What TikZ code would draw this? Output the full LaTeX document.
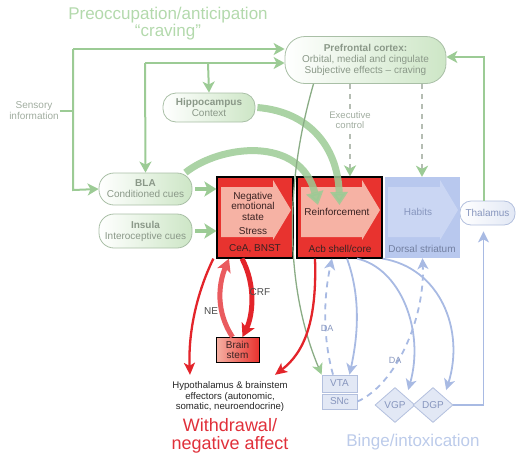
\documentclass[tikz,border=0pt]{standalone}
\usepackage{fontspec}
\setmainfont{Liberation Sans}
\usetikzlibrary{arrows.meta,shapes.geometric}
\definecolor{gline}{HTML}{9CCB95}
\definecolor{gtitle}{HTML}{B3D9AC}
\definecolor{gtext}{HTML}{8A9888}
\definecolor{gfill}{HTML}{CDE6C6}
\definecolor{gborder}{HTML}{A9BFA6}
\definecolor{exgray}{HTML}{B5BDB3}
\definecolor{rbox}{HTML}{E8332F}
\definecolor{rinner}{HTML}{F6B2A4}
\definecolor{rline}{HTML}{E3242A}
\definecolor{rtitle}{HTML}{E0303A}
\definecolor{rtext}{HTML}{3A2222}
\definecolor{bboxc}{HTML}{B8C8EE}
\definecolor{binner}{HTML}{CAD6F3}
\definecolor{bline}{HTML}{A8BAE3}
\definecolor{btext}{HTML}{8796BE}
\definecolor{btitle}{HTML}{BCCBEA}
\definecolor{bfill}{HTML}{E2E8F5}
\definecolor{bborder}{HTML}{B3C0DE}
\begin{document}
\begin{tikzpicture}[x=1pt,y=-1pt,
  font=\fontsize{10}{11}\selectfont,
  gnode/.style={draw=gborder, line width=0.8pt, left color=white, right color=gfill,
    text=gtext, align=center, inner sep=0pt},
  redbox/.style={draw=black, line width=1.2pt, fill=rbox, inner sep=0pt},
  bluebox/.style={fill=bboxc, inner sep=0pt},
  rtxt/.style={text=rtext, align=center, inner sep=0pt, font=\fontsize{10}{10.5}\selectfont},
  btxt/.style={text=btext, align=center, inner sep=0pt},
  bsmall/.style={draw=bborder, line width=0.8pt, fill=bfill, text=btext, inner sep=0pt},
  bdiam/.style={diamond, draw=bborder, line width=0.8pt, fill=bfill, text=btext, inner sep=0pt,
    minimum width=40pt, minimum height=35pt},
  garr/.style={draw=gline, line width=2pt, -{Stealth[length=11pt,width=12pt,inset=3pt]}},
  gfat/.style={draw=gline, line width=4.5pt, -{Stealth[length=12pt,width=15pt,inset=3pt]}},
  gplain/.style={draw=gline, line width=2pt},
  gdash/.style={draw=exgray, line width=2pt, dash pattern=on 5pt off 5pt,
    -{Stealth[length=11pt,width=12pt,inset=3pt,color=gline]}},
  gthick/.style={draw=gline, line width=7pt, opacity=0.85,
    -{Triangle[length=13pt,width=17pt]}},
  gthin/.style={draw=gline!80!black!90, line width=1.3pt,
    -{Stealth[length=11pt,width=11pt,inset=3pt,color=gline]}},
  rarr/.style={draw=rline, line width=2.3pt, -{Stealth[length=12pt,width=11pt,inset=3pt]}},
  rthick/.style={draw=rline, line width=5pt, -{Stealth[length=13pt,width=14pt,inset=3pt]}},
  barr/.style={draw=bline, line width=1.8pt, -{Stealth[length=11pt,width=11pt,inset=3pt]}},
  bdash/.style={draw=bline, line width=1.8pt, dash pattern=on 6pt off 5pt,
    -{Stealth[length=11pt,width=11pt,inset=3pt]}},
  lab/.style={inner sep=1pt, align=center}
]
\useasboundingbox (0,0) rectangle (516,456);

% ---------- titles ----------
\node[text=gtitle, align=center, inner sep=0pt, font=\fontsize{17}{15}\selectfont] (ttl1) at (168,24)
  {Preoccupation/anticipation\\\textquotedblleft craving\textquotedblright};
\node[text=rtitle, align=center, inner sep=0pt, font=\fontsize{18}{17.5}\selectfont] (ttl3) at (230,436)
  {Withdrawal/\\negative affect};
\node[text=btitle, font=\fontsize{17}{17}\selectfont] (ttl5) at (413,442) {Binge/intoxication};

% ---------- green nodes ----------
\node[gnode, minimum width=161pt, minimum height=47pt, rounded corners=20pt] (pfc) at (365.5,60)
  {\textbf{Prefrontal cortex:}\\Orbital, medial and cingulate\\Subjective effects \textendash\ craving};
\node[gnode, minimum width=92pt, minimum height=29pt, rounded corners=13pt] (hip) at (209,107.5)
  {\textbf{Hippocampus}\\Context};
\node[gnode, minimum width=93pt, minimum height=32pt, rounded corners=15pt] (bla) at (145.5,189)
  {\textbf{BLA}\\Conditioned cues};
\node[gnode, minimum width=93pt, minimum height=34pt, rounded corners=15pt] (ins) at (145.5,231)
  {\textbf{Insula}\\Interoceptive cues};
\node[draw=bborder, line width=0.8pt, left color=white, right color=bfill, text=btext,
  rounded corners=11pt, minimum width=55pt, minimum height=24pt, inner sep=0pt] (thal) at (487.5,213) {Thalamus};

\node[text=gtext!80!white, lab] (sens) at (34,111) {Sensory\\information};

% ---------- central boxes ----------
\node[redbox, minimum width=76pt, minimum height=81pt] (cea) at (255,217.5) {};
\fill[rinner] (221,187) -- (273,187) -- (273,180) -- (291,210) -- (273,240) -- (273,237) -- (221,237) -- cycle;
\node[redbox, minimum width=85pt, minimum height=81pt] (acb) at (339.5,217.5) {};
\fill[rinner] (301,187) -- (362,187) -- (362,180) -- (380,210) -- (362,240) -- (362,237) -- (301,237) -- cycle;
\node[bluebox, minimum width=75pt, minimum height=81pt] (ds) at (422.5,217.5) {};
\fill[binner] (388,187) -- (440,187) -- (440,180) -- (458,210) -- (440,240) -- (440,237) -- (388,237) -- cycle;

% ---------- green thick curves ----------
\draw[gthick] ([xshift=2pt]hip.east) .. controls (312,112) and (338,150) .. ([yshift=12.5pt]acb.center);
\draw[gthick] ([xshift=-7pt]bla.north east) .. controls (220,145) and (300,135) .. ([xshift=-21.5pt,yshift=12.5pt]acb.center);

% ---------- box texts ----------
\node[rtxt] (ceat1) at (253,206) {Negative\\emotional\\state};
\node[rtxt] (ceat2) at (253,231) {Stress};
\node[rtxt] (ceat3) at (255,249) {CeA, BNST};
\node[rtxt] (acbt1) at (337,212) {Reinforcement};
\node[rtxt] (acbt2) at (340,249) {Acb shell/core};
\node[btxt] (dst1) at (418,212) {Habits};
\node[btxt, text=btext!85!black] (dst2) at (422,249) {Dorsal striatum};

% ---------- lower nodes ----------
\node[draw=black, line width=1pt, left color=rinner, right color=rbox, text=rtext,
  minimum width=43pt, minimum height=25pt, inner sep=0pt, align=center,
  font=\fontsize{10}{10}\selectfont] (bs) at (237.5,350) {Brain\\stem};
\node[lab, text=black!85, font=\fontsize{9.6}{10.5}\selectfont] (hyp) at (230,397)
  {Hypothalamus \& brainstem\\effectors (autonomic,\\somatic, neuroendocrine)};
\node[bsmall, minimum width=35pt, minimum height=17pt] (vta) at (339.5,383.5) {VTA};
\node[bsmall, minimum width=35pt, minimum height=15pt] (snc) at (339.5,401.5) {SNc};
\node[bdiam] (vgp) at (395,405) {VGP};
\node[bdiam] (dgp) at (433,405) {DGP};

% ---------- green connectors ----------
\coordinate (s1) at (73,49);
\coordinate (s2) at (73,190);
\coordinate (j1) at (145,63);
\coordinate (j2) at (208,63);
\coordinate (ex1) at (350,120);
\coordinate (ex2) at (422,120);
\draw[gplain] (sens.east) -- (sens.east -| s1);
\draw[garr] (s1) -- (s1 -| pfc.west);
\draw[garr] (s1) -- (s2) -- (bla.west);
\draw[garr] (j1) -- (j1 -| pfc.west);
\draw[garr] (j1) -- (bla.north);
\draw[garr] (j2) -- (hip.north);
\draw[garr] ([xshift=-4pt]thal.north) |- ([yshift=3pt]pfc.east);
\draw[gfat] ([xshift=3pt]bla.east) -- (bla.east -| cea.west);
\draw[gfat] ([xshift=3pt]ins.east) -- (ins.east -| cea.west);
\draw[gdash] (pfc.south -| ex1) -- (acb.north -| ex1);
\draw[gdash] (pfc.south -| ex2) -- (ds.north -| ex2);
\node[lab, fill=white, text=gtext!80!white, font=\fontsize{9.5}{10.5}\selectfont] (exlab) at (ex1) {Executive\\control};
\draw[gthin] ([xshift=-52pt]pfc.south) .. controls (280,200) and (290,300) .. (vta.north west);

% ---------- red connectors ----------
\draw[rarr] ([xshift=-3pt]cea.south west) .. controls (198,290) and (188,330) .. ([shift={(-40pt,6pt)}]hyp.north);
\draw[rarr] ([xshift=-24.5pt]acb.south) .. controls (317,320) and (305,352) .. ([shift={(45pt,6pt)}]hyp.north);
\draw[rthick] ([xshift=-13pt]cea.south) .. controls (256,285) and (253,315) .. ([xshift=5pt]bs.north);
\draw[rthick, draw=rline!75!white] ([xshift=-5pt]bs.north) .. controls (216,312) and (218,285) .. ([xshift=-26pt]cea.south);
\node[lab, text=black!70, font=\fontsize{10}{10}\selectfont] (crf) at (260,292) {CRF};
\node[lab, text=black!70, font=\fontsize{10}{10}\selectfont] (ne) at (211,311) {NE};

% ---------- blue connectors ----------
\draw[bdash] ([xshift=-6.5pt]vta.north) .. controls (322,335) and (324,295) .. ([xshift=-7.5pt]acb.south);
\draw[barr] ([xshift=7.5pt]acb.south) .. controls (362,300) and (357,340) .. ([xshift=10pt]vta.north);
\draw[barr] ([xshift=17.5pt]acb.south) .. controls (400,268) and (425,330) .. ([shift={(3pt,6pt)}]vgp.north east);
\draw[barr] (acb.south east) .. controls (440,268) and (465,330) .. ([shift={(3pt,6pt)}]dgp.north east);
\draw[bdash] (snc.east) .. controls (395,385) and (425,320) .. (ds.south);
\draw[barr, shorten >=6pt] (dgp.east) -| ([xshift=-4pt]thal.south);
\node[lab, text=btext, font=\fontsize{9}{9}\selectfont] (da1) at (327,328) {DA};
\node[lab, text=btext, font=\fontsize{9}{9}\selectfont] (da2) at (395,360) {DA};
\end{tikzpicture}
\end{document}
